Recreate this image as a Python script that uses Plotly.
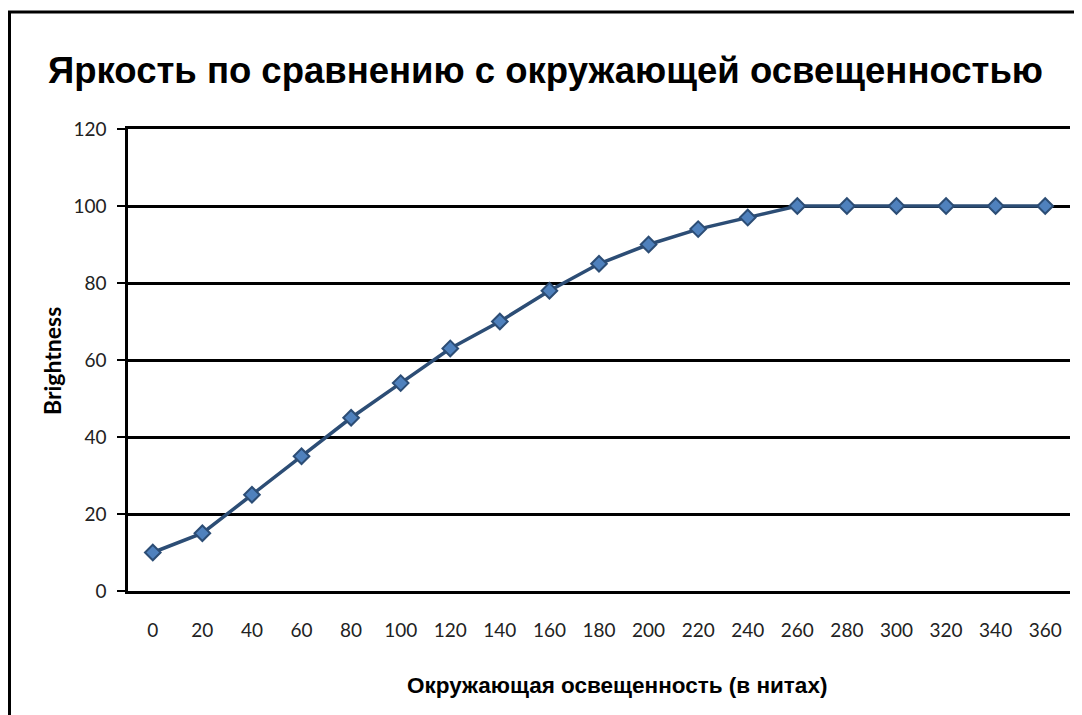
import plotly.graph_objects as go

categories = [str(v) for v in range(0, 361, 20)]
brightness = [10, 15, 25, 35, 45, 54, 63, 70, 78, 85, 90, 94, 97, 100, 100, 100, 100, 100, 100]
y_ticks = [0, 20, 40, 60, 80, 100, 120]

title_text = "Яркость по сравнению с окружающей освещенностью"
x_title = "Окружающая освещенность (в нитах)"
y_title = "Brightness"

W, H = 1082, 715
L, R, T, B = 120, 20, 121, 132

fig = go.Figure()
fig.add_trace(go.Scatter(
    x=categories, y=brightness, mode="lines+markers",
    line=dict(color="#2c4d75", width=3.5),
    marker=dict(symbol="diamond", size=12, color="#4f81bd",
                line=dict(color="#2c4d75", width=2)),
    showlegend=False, cliponaxis=False,
))

fig.update_layout(
    width=W, height=H,
    margin=dict(l=L, r=R, t=T, b=B),
    paper_bgcolor="white", plot_bgcolor="white",
    title=dict(text="<b>" + title_text + "</b>", xref="container", x=40 / W, xanchor="left",
               yref="container", y=1 - 62 / H, yanchor="middle",
               font=dict(family="Liberation Sans, Arial", size=36.5, color="black")),
    xaxis=dict(type="category", range=[-0.5, len(categories) - 0.5],
               showgrid=False, showline=True, linecolor="black", linewidth=2.5, mirror=True,
               ticks="", ticklabelstandoff=20,
               tickfont=dict(family="Lato, Open Sans", size=19, color="#222")),
    yaxis=dict(range=[0, 120], tickvals=y_ticks, showgrid=True, gridcolor="black", gridwidth=2.5,
               showline=True, linecolor="black", linewidth=2.5, zeroline=False,
               ticks="outside", ticklen=8, tickwidth=2, tickcolor="black", ticklabelstandoff=7,
               tickfont=dict(family="Lato, Open Sans", size=19, color="#222")),
    annotations=[
        dict(text="<b>" + x_title + "</b>", xref="paper", yref="paper",
             x=(609 - L) / (W - L - R), y=-(677 - (H - B)) / (H - T - B),
             xanchor="center", yanchor="middle", showarrow=False,
             font=dict(family="Liberation Sans, Arial", size=22.5, color="black")),
        dict(text="<b>" + y_title + "</b>", xref="paper", yref="paper",
             x=-(L - 44) / (W - L - R), y=(H - B - 353) / (H - T - B),
             xanchor="center", yanchor="middle", showarrow=False, textangle=-90,
             font=dict(family="Lato, Open Sans", size=23, color="black")),
    ],
    shapes=[
        dict(type="rect", xref="paper", yref="paper",
             x0=-(L - 1.5) / (W - L - R), x1=1.2, y0=(H - B - 4) / (H - T - B), y1=-0.3,
             line=dict(color="black", width=3), fillcolor="rgba(0,0,0,0)", layer="above"),
    ],
)

fig.write_html("out.html")
